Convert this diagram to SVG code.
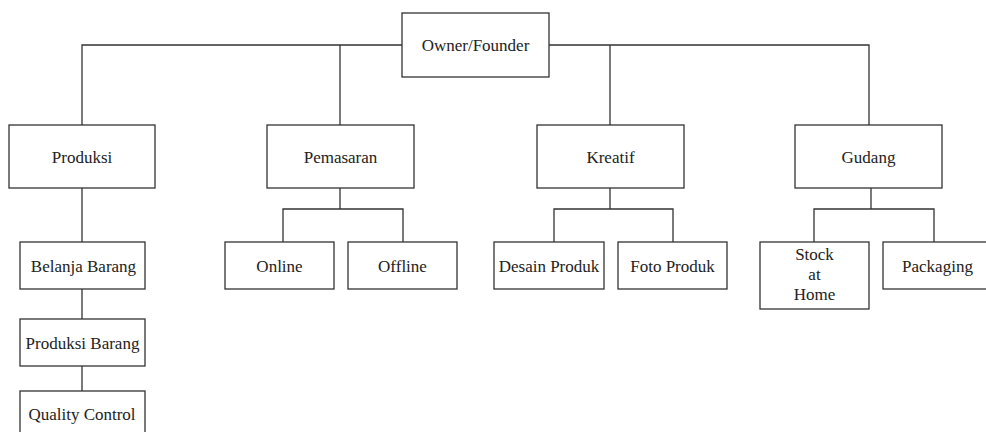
<svg xmlns="http://www.w3.org/2000/svg" width="986" height="432" viewBox="0 0 986 432">
<style>
rect.box{fill:#fff;stroke:#333;stroke-width:1.3}
.conn path{fill:none;stroke:#333;stroke-width:1.3}
text{font-family:"Liberation Serif","Times New Roman",serif;font-size:17px;fill:#222;text-anchor:middle}
</style>
<rect width="986" height="432" fill="#fff"/>
<g class="conn" id="connectors">
<path d="M82,125 V45 H869 V125"/>
<path d="M340,45 V125"/>
<path d="M610,45 V125"/>
<path d="M82,188 V242"/>
<path d="M82,289 V319"/>
<path d="M82,366 V391"/>
<path d="M340,188 V209"/>
<path d="M283,242 V209 H403 V242"/>
<path d="M610,188 V209"/>
<path d="M554,242 V209 H673 V242"/>
<path d="M871,188 V209"/>
<path d="M814,242 V209 H934 V242"/>
</g>
<g id="owner"><rect class="box" x="402" y="13" width="147" height="64"/><text x="475.5" y="51">Owner/Founder</text></g>
<g id="produksi"><rect class="box" x="9" y="125" width="146" height="63"/><text x="82" y="162.5">Produksi</text></g>
<g id="pemasaran"><rect class="box" x="267" y="125" width="147" height="63"/><text x="340.5" y="162.5">Pemasaran</text></g>
<g id="kreatif"><rect class="box" x="537" y="125" width="147" height="63"/><text x="610.5" y="162.5">Kreatif</text></g>
<g id="gudang"><rect class="box" x="795" y="125" width="147" height="63"/><text x="868.5" y="162.5">Gudang</text></g>
<g id="belanja"><rect class="box" x="20" y="242" width="125" height="47"/><text x="83.5" y="271.5">Belanja Barang</text></g>
<g id="produksi-barang"><rect class="box" x="20" y="319" width="125" height="47"/><text x="82.5" y="348.5">Produksi Barang</text></g>
<g id="quality"><rect class="box" x="20" y="391" width="125" height="47"/><text x="82" y="420">Quality Control</text></g>
<g id="online"><rect class="box" x="225" y="242" width="109" height="47"/><text x="279.5" y="271.5">Online</text></g>
<g id="offline"><rect class="box" x="348" y="242" width="109" height="47"/><text x="402.5" y="271.5">Offline</text></g>
<g id="desain"><rect class="box" x="494" y="242" width="110" height="47"/><text x="549" y="271.5">Desain Produk</text></g>
<g id="foto"><rect class="box" x="618" y="242" width="109" height="47"/><text x="672.5" y="271.5">Foto Produk</text></g>
<g id="stock"><rect class="box" x="760" y="242" width="109" height="67"/><text x="814.5" y="260">Stock</text><text x="814.5" y="280">at</text><text x="814.5" y="300">Home</text></g>
<g id="packaging"><rect class="box" x="883" y="242" width="109" height="47"/><text x="937.5" y="271.5">Packaging</text></g>
</svg>
